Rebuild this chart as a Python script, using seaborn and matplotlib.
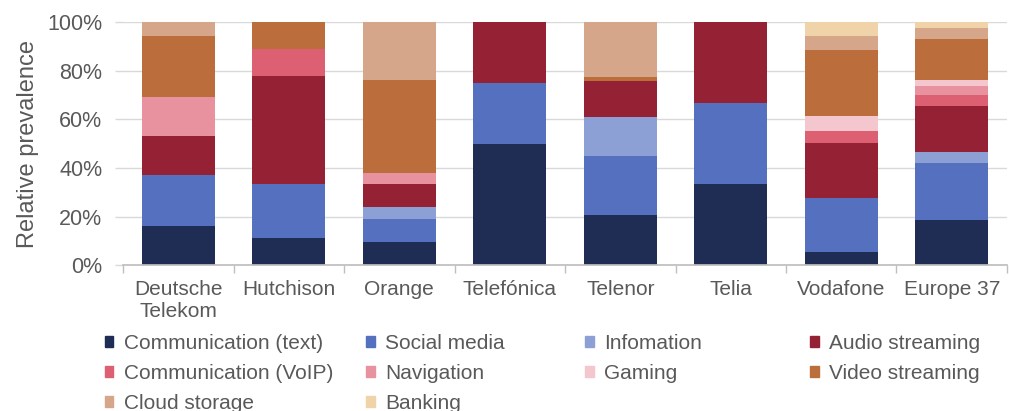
import matplotlib
matplotlib.use("Agg")
import matplotlib.pyplot as plt
import matplotlib.patches as mpatches
import seaborn as sns
import pandas as pd
import numpy as np

operators = ["Deutsche\nTelekom", "Hutchison", "Orange", "Telefónica",
             "Telenor", "Telia", "Vodafone", "Europe 37"]

series_names = ["Communication (text)", "Social media", "Infomation", "Audio streaming",
                "Communication (VoIP)", "Navigation", "Gaming", "Video streaming",
                "Cloud storage", "Banking"]

comm_text = [16.0, 11.1, 9.5, 50.0, 20.6, 33.3, 5.2, 18.6]
social_media = [21.0, 22.2, 9.5, 25.0, 24.3, 33.3, 22.3, 23.6]
information = [0.0, 0.0, 4.8, 0.0, 16.2, 0.0, 0.0, 4.2]
audio_streaming = [16.0, 44.5, 9.5, 25.0, 14.5, 33.4, 22.7, 19.2]
comm_voip = [0.0, 11.1, 0.0, 0.0, 0.0, 0.0, 5.2, 4.6]
navigation = [16.0, 0.0, 4.8, 0.0, 0.0, 0.0, 0.0, 3.7]
gaming = [0.0, 0.0, 0.0, 0.0, 0.0, 0.0, 5.8, 2.2]
video_streaming = [25.5, 11.1, 38.1, 0.0, 2.0, 0.0, 27.5, 17.0]
cloud_storage = [5.5, 0.0, 23.8, 0.0, 22.4, 0.0, 5.8, 4.6]
banking = [0.0, 0.0, 0.0, 0.0, 0.0, 0.0, 5.5, 2.3]

colors = ["#1F2D54", "#5470BE", "#8DA0D5", "#952234", "#DD5F72",
          "#E8919F", "#F4C6CE", "#BB6E3C", "#D5A68A", "#F0D3A8"]

values = [comm_text, social_media, information, audio_streaming, comm_voip,
          navigation, gaming, video_streaming, cloud_storage, banking]

sns.set_theme(style="white")
plt.rcParams["font.family"] = ["Liberation Sans", "DejaVu Sans"]
text_color = "#595959"

fig = plt.figure(figsize=(10.09, 4.11), dpi=100)
ax = fig.add_axes([0.122, 0.355, 0.876, 0.591])

# stacked bars: draw cumulative totals from the top down
df = pd.DataFrame(dict(zip(series_names, values)), index=operators)
cum = df.cumsum(axis=1)
for name, color in reversed(list(zip(series_names, colors))):
    sns.barplot(x=operators, y=cum[name].values, color=color, width=0.66,
                saturation=1, linewidth=0, edgecolor="none", ax=ax, zorder=2)

ax.set_ylim(0, 100)
ax.set_xlim(-0.5, len(operators) - 0.5)
ax.set_yticks(np.arange(0, 101, 20))
ax.set_yticklabels([f"{v}%" for v in range(0, 101, 20)])
ax.yaxis.grid(True, color="#D9D9D9", linewidth=1, zorder=0)
ax.set_axisbelow(True)
for s in ["top", "right", "left"]:
    ax.spines[s].set_visible(False)
ax.spines["bottom"].set_color("#BFBFBF")

ax.set_xticks(np.arange(-0.5, len(operators), 1), minor=True)
ax.tick_params(axis="x", which="major", length=0, pad=11, labelsize=15, labelcolor=text_color)
ax.tick_params(axis="x", which="minor", length=6, color="#BFBFBF", bottom=True)
ax.tick_params(axis="y", left=True, length=6, width=1, color="#D9D9D9", pad=9,
               labelsize=15.5, labelcolor=text_color)
for lbl in ax.get_xticklabels():
    lbl.set_linespacing(1.15)

ax.set_ylabel("Relative prevalence", fontsize=17, color=text_color, labelpad=6)
ax.set_xlabel("")

# legend laid out as four columns like the original
handles = [mpatches.Patch(color=c, label=n) for n, c in zip(series_names, colors)]
columns = [[0, 4, 8], [1, 5, 9], [2, 6], [3, 7]]
col_x = [0.104, 0.363, 0.580, 0.803]
for xs, idx in zip(col_x, columns):
    fig.legend(handles=[handles[i] for i in idx], loc="upper left",
               bbox_to_anchor=(xs, 0.187), frameon=False, fontsize=15,
               handlelength=0.4, handleheight=0.4, handletextpad=0.5,
               labelspacing=0.52, borderpad=0, borderaxespad=0,
               labelcolor=text_color)

fig.savefig("out.png", dpi=100)
